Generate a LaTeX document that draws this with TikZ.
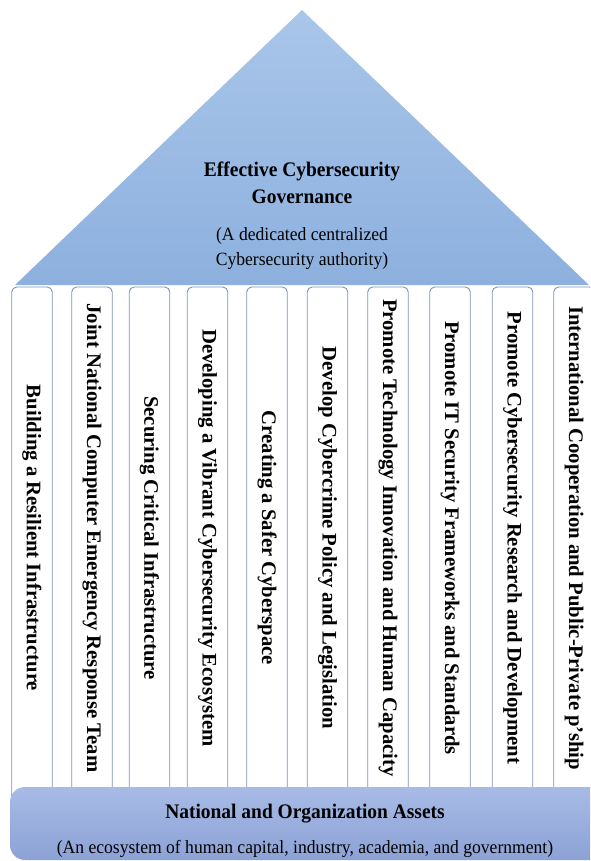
\documentclass[tikz,border=0pt]{standalone}
\usepackage{fontspec}
\setmainfont{Liberation Serif}
\newfontfamily\hfont[FakeStretch=0.94]{Liberation Serif}
\definecolor{roofTop}{HTML}{A9C6EA}
\definecolor{roofBot}{HTML}{8DB0DE}
\definecolor{assetTop}{HTML}{A8BBE6}
\definecolor{assetBot}{HTML}{8CA2D6}
\definecolor{pillarLine}{HTML}{7D93BA}
\begin{document}
\begin{tikzpicture}[x=1pt,y=-1pt,
  roof/.style={top color=roofTop, bottom color=roofBot, draw=none},
  assetbox/.style={top color=assetTop, bottom color=assetBot, draw=none, rounded corners=15pt},
  pillarbox/.style={draw=pillarLine, line width=0.9pt, fill=white, rounded corners=5pt},
  ptext/.style={rotate=-90, font=\bfseries\fontsize{20.7}{24}\selectfont, inner sep=0pt},
  ttl/.style={font=\hfont\bfseries\fontsize{20.7}{24}\selectfont, anchor=base, inner sep=0pt},
  subt/.style={font=\hfont\fontsize{18.7}{22}\selectfont, anchor=base, inner sep=0pt}]
\useasboundingbox (0,0) rectangle (590,861);
\clip (0,0) rectangle (590,861);
% roof
\coordinate (apex) at (302,10);
\coordinate (roofL) at (15,285);
\coordinate (roofR) at (589,285);
\path[roof] (apex) -- (roofR) -- (roofL) -- cycle;
\node[ttl] (t1) at (302,177) {Effective Cybersecurity};
\node[ttl] (t2) at (302,203) {Governance};
\node[subt] (t3) at (302,240) {(A dedicated centralized};
\node[subt] (t4) at (302,265) {Cybersecurity authority)};
% pillars
\foreach \n/\cx/\txt in {
  1/32/{Building a Resilient Infrastructure},
  2/92/{Joint National Computer Emergency Response Team},
  3/149.5/{Securing Critical Infrastructure},
  4/207.5/{Developing a Vibrant Cybersecurity Ecosystem},
  5/267/{Creating a Safer Cyberspace},
  6/327.5/{Develop Cybercrime Policy and Legislation},
  7/388/{Promote Technology Innovation and Human Capacity},
  8/450/{Promote IT Security Frameworks and Standards},
  9/512.5/{Promote Cybersecurity Research and Development},
  10/574/{International Cooperation and Public-Private p’ship}}{
  \draw[pillarbox] (\cx-20.25,800) -- (\cx-20.25,287) -- (\cx+20.25,287) -- (\cx+20.25,800);
  \node[ptext] (p\n) at (\cx,538) {\txt};
}
% foundation
\path[assetbox] (10,787) rectangle (620,860);
\node[ttl] (a1) at (305,818) {National and Organization Assets};
\node[subt] (a2) at (305,853) {(An ecosystem of human capital, industry, academia, and government)};
\end{tikzpicture}
\end{document}
